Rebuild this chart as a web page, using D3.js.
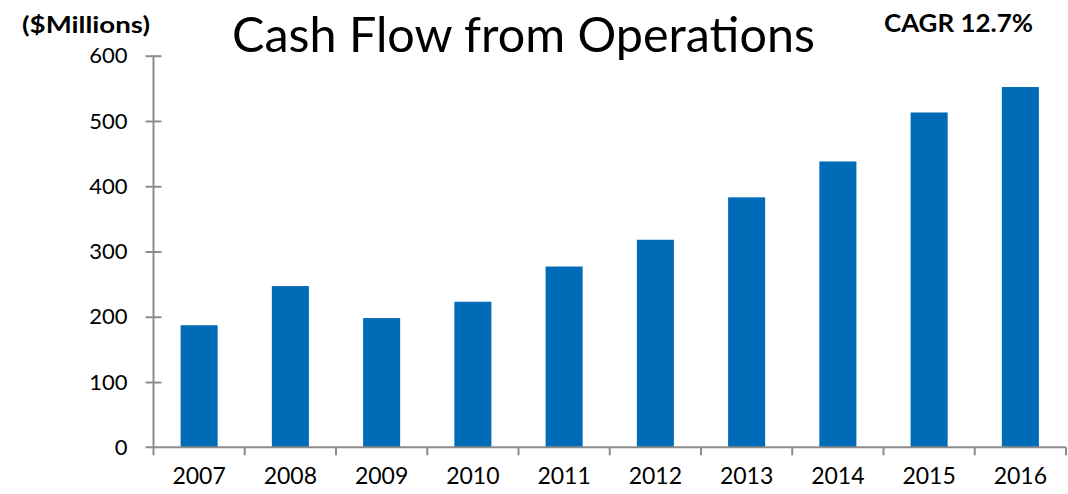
<!DOCTYPE html>
<html><head><meta charset="utf-8">
<script src="https://cdn.jsdelivr.net/npm/d3@7"></script>
<style>body{margin:0;background:#fff}svg{display:block}</style>
</head><body>
<svg id="c" width="1068" height="494"></svg>
<script>
const years = ["2007","2008","2009","2010","2011","2012","2013","2014","2015","2016"];
const cashFlow = [187, 247, 198, 223, 277, 318, 383, 438, 513, 552];
const yTicks = [0, 100, 200, 300, 400, 500, 600];
const titleText = "Cash Flow from Operations";
const unitText = "($Millions)";
const cagrText = "CAGR 12.7%";

const svg = d3.select("#c");
const mLeft = 153.5, mRight = 1066, mTop = 55.7, mBottom = 447.3;
const axisColor = "#8c8c8c", barColor = "#006bb6";
const font = "Lato, 'Open Sans', sans-serif";

const xBand = d3.scaleBand().domain(years).range([mLeft, mRight]).padding(0);
const xBar = d3.scaleBand().domain(years).range([mLeft, mRight]).paddingInner(0.594).paddingOuter(0.297);
const y = d3.scaleLinear().domain([0, 600]).range([mBottom, mTop]);

// bars
svg.append("g").selectAll("rect").data(years).join("rect")
  .attr("x", d => xBar(d)).attr("width", xBar.bandwidth())
  .attr("y", (d,i) => y(cashFlow[i])).attr("height", (d,i) => y(0) - y(cashFlow[i]))
  .attr("fill", barColor);

// y axis
const ya = svg.append("g").attr("transform", `translate(${mLeft},0)`)
  .call(d3.axisLeft(y).tickValues(yTicks).tickSize(8).tickPadding(18).tickFormat(d3.format("d")));
ya.select(".domain").remove();
ya.selectAll(".tick line").attr("x2", d => d === 0 ? -8 : 8).attr("x1", -8)
  .attr("stroke", axisColor).attr("stroke-width", 2);
ya.selectAll(".tick text").attr("font-family", font).attr("font-size", 22).attr("fill", "#000");
svg.append("line").attr("x1", mLeft).attr("x2", mLeft).attr("y1", mTop).attr("y2", mBottom)
  .attr("stroke", axisColor).attr("stroke-width", 2);

// x axis
const xa = svg.append("g").attr("transform", `translate(0,${mBottom})`)
  .call(d3.axisBottom(xBand).tickSize(0).tickPadding(20));
xa.select(".domain").remove();
xa.selectAll(".tick text").attr("font-family", font).attr("font-size", 23).attr("fill", "#000");
svg.append("line").attr("x1", mLeft - 8).attr("x2", mRight).attr("y1", mBottom).attr("y2", mBottom)
  .attr("stroke", axisColor).attr("stroke-width", 2);
const bounds = years.map(d => xBand(d)).concat([xBand.range()[1]]);
svg.append("g").selectAll("line").data(bounds).join("line")
  .attr("x1", d => d).attr("x2", d => d).attr("y1", mBottom).attr("y2", mBottom + 8)
  .attr("stroke", axisColor).attr("stroke-width", 2);

// texts
svg.append("text").attr("x", 232).attr("y", 52).attr("font-family", font).attr("font-size", 48)
  .attr("textLength", 583).attr("lengthAdjust", "spacingAndGlyphs").text(titleText);
svg.append("text").attr("x", 22).attr("y", 33).attr("font-family", font).attr("font-size", 22)
  .attr("font-weight", "bold").attr("textLength", 128).attr("lengthAdjust", "spacingAndGlyphs").text(unitText);
svg.append("text").attr("x", 884).attr("y", 31.5).attr("font-family", font).attr("font-size", 24)
  .attr("font-weight", "bold").attr("textLength", 149).attr("lengthAdjust", "spacingAndGlyphs").text(cagrText);
</script>
</body></html>
